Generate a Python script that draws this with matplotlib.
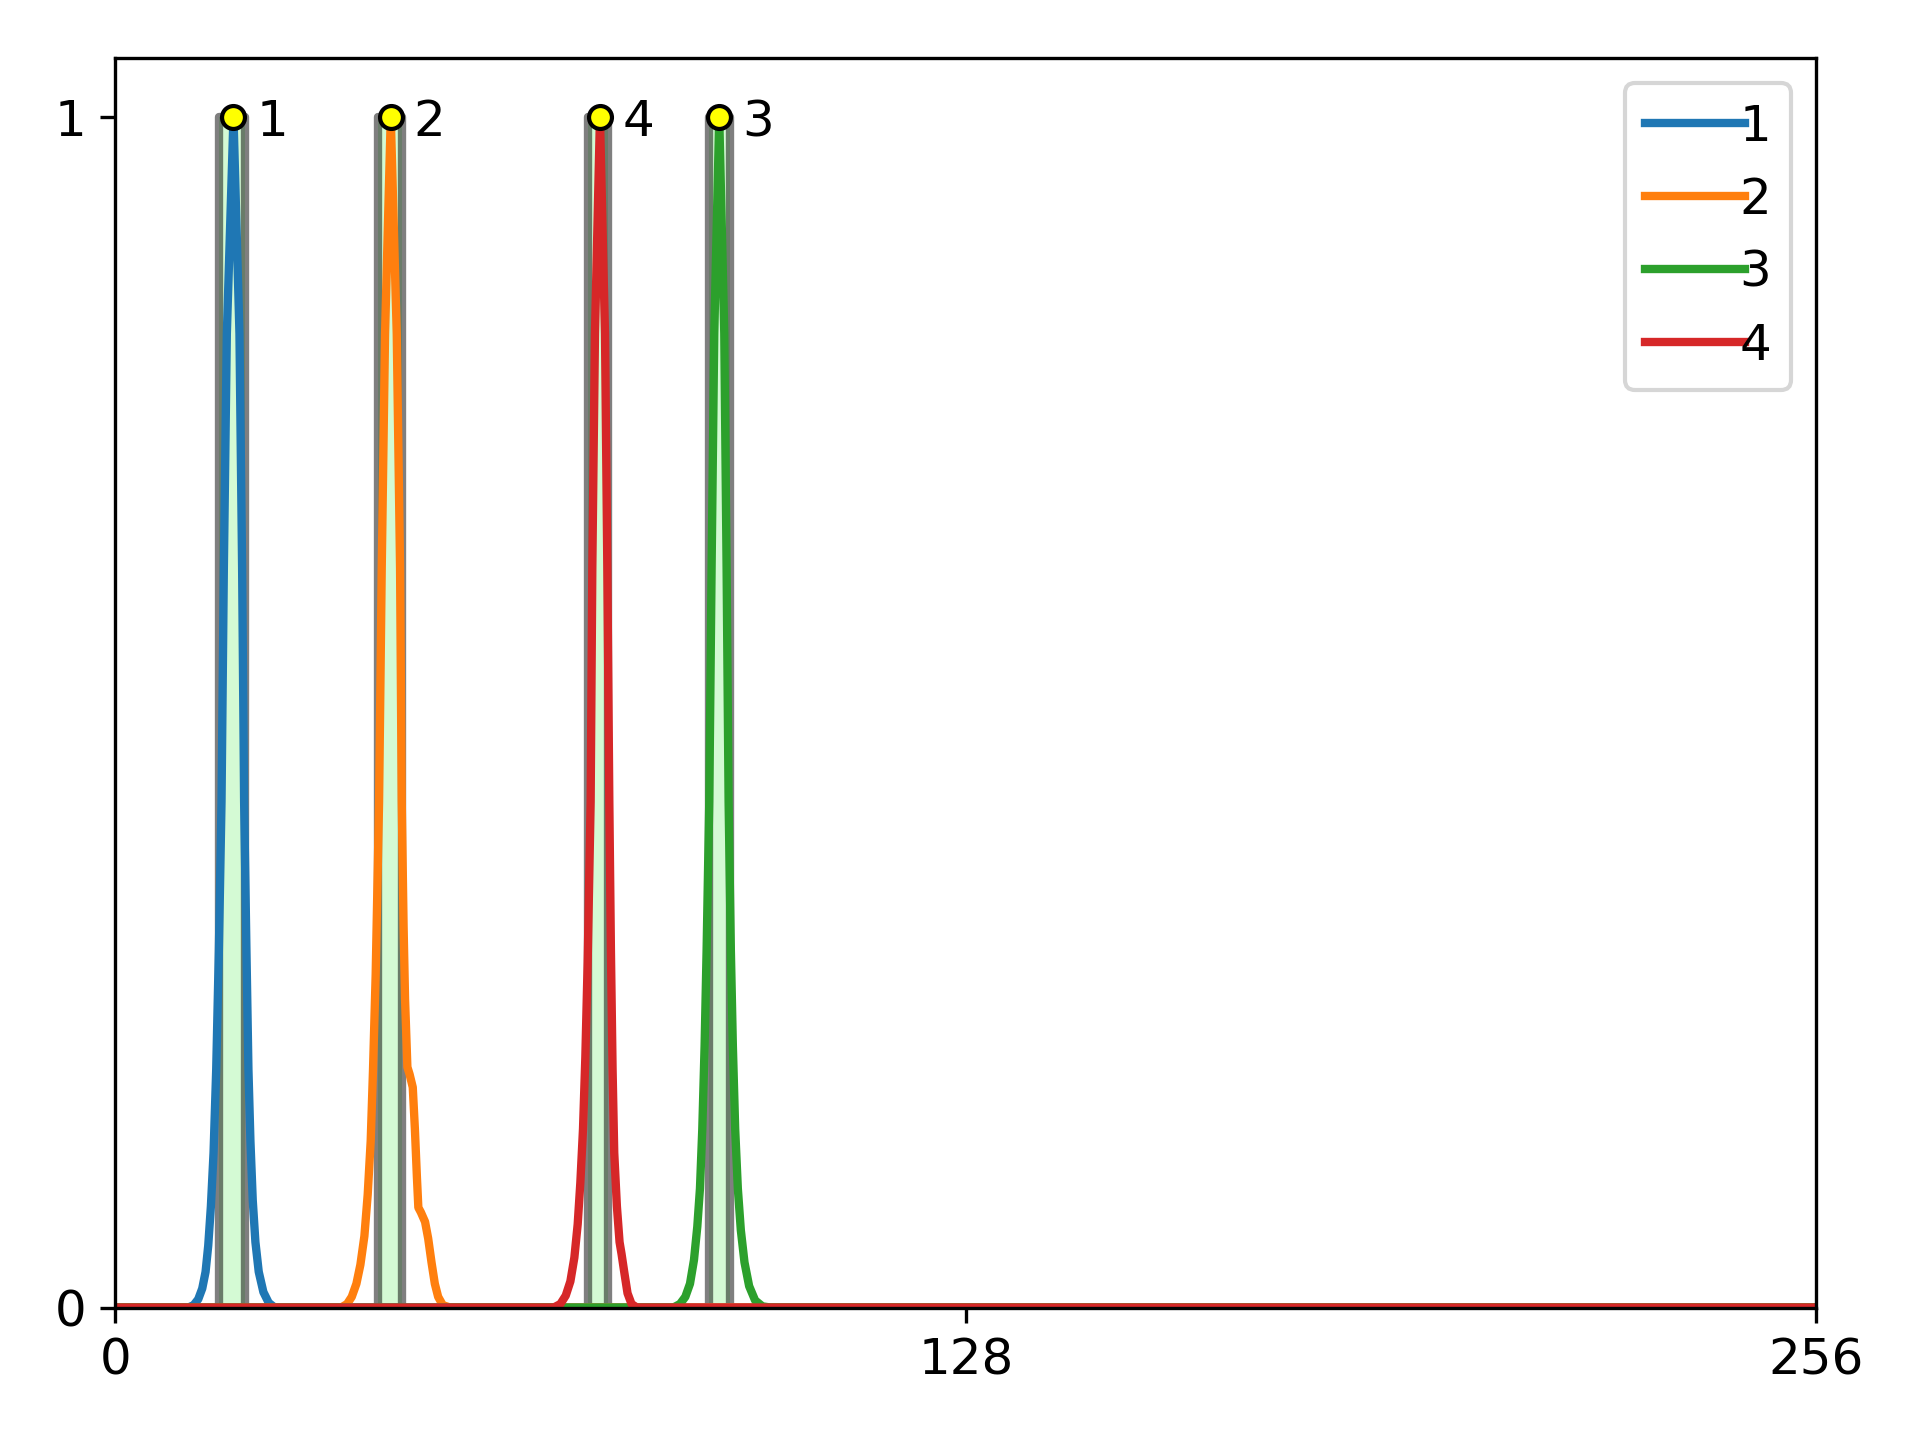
import numpy as np
import matplotlib
matplotlib.use("Agg")
from matplotlib import pyplot as plt

plt.rcParams["font.size"] = 12

labels = ["1", "2", "3", "4"]
colors = ["tab:blue", "tab:orange", "tab:green", "tab:red"]

# curve samples (x position, response)
x1 = [0, 11.0, 11.8, 12.5, 13.1, 13.6, 14.0, 14.4, 14.8, 15.2, 15.6, 16.0, 16.35, 16.8, 17.8,
      18.7, 19.1, 19.4, 19.75, 20.05, 20.35, 20.7, 21.1, 21.6, 22.3, 23.1, 24.0, 256]
y1 = [0, 0, 0.002, 0.007, 0.016, 0.03, 0.052, 0.085, 0.13, 0.2, 0.3, 0.425, 0.621, 0.818, 1,
      0.818, 0.621, 0.425, 0.3, 0.2, 0.14, 0.09, 0.055, 0.03, 0.013, 0.004, 0, 0]

x2 = [0, 34.0, 34.9, 35.6, 36.3, 36.9, 37.5, 38.0, 38.45, 38.8, 39.2, 39.71, 40.11, 40.61, 41.47,
      42.37, 42.87, 43.12, 43.4, 43.62, 43.97, 44.3, 44.78, 45.1, 45.4, 45.62, 46.0, 46.63,
      47.1, 47.6, 48.1, 48.6, 49.3, 50.4, 256]
y2 = [0, 0, 0.003, 0.009, 0.02, 0.036, 0.06, 0.095, 0.14, 0.2, 0.28, 0.425, 0.621, 0.818, 1,
      0.818, 0.621, 0.425, 0.32, 0.259, 0.202, 0.196, 0.185, 0.15, 0.11, 0.084, 0.08, 0.072,
      0.058, 0.038, 0.02, 0.009, 0.002, 0, 0]

x3 = [0, 84.0, 85.0, 85.8, 86.5, 87.1, 87.6, 88.0, 88.35, 88.7, 89.0, 89.4, 89.75, 90.15, 90.9,
      91.66, 92.01, 92.31, 92.65, 92.95, 93.3, 93.7, 94.15, 94.7, 95.4, 96.3, 97.4, 98.6, 256]
y3 = [0, 0, 0.003, 0.009, 0.02, 0.04, 0.068, 0.1, 0.15, 0.22, 0.3, 0.425, 0.621, 0.818, 1,
      0.818, 0.621, 0.425, 0.3, 0.22, 0.15, 0.1, 0.065, 0.038, 0.018, 0.006, 0.001, 0, 0]

x4 = [0, 66.0, 67.0, 67.8, 68.5, 69.1, 69.6, 70.0, 70.4, 70.75, 71.1, 71.55, 71.8, 72.2, 72.95,
      73.71, 74.06, 74.36, 74.6, 74.85, 75.1, 75.5, 75.9, 76.2, 76.6, 77.1, 77.7, 78.5, 256]
y4 = [0, 0, 0.003, 0.01, 0.022, 0.042, 0.07, 0.105, 0.15, 0.21, 0.29, 0.425, 0.621, 0.818, 1,
      0.818, 0.621, 0.425, 0.3, 0.2, 0.13, 0.085, 0.055, 0.045, 0.03, 0.012, 0.003, 0, 0]

# detected windows and peak positions
win_lo = [15.64, 39.56, 89.35, 71.2]
win_hi = [19.55, 43.17, 92.5, 74.15]
peak_x = [17.8, 41.47, 90.9, 72.95]

fig, ax = plt.subplots(figsize=(6.4, 4.8), dpi=300)
fig.subplots_adjust(left=0.06, right=0.946, bottom=0.092, top=0.96)

for lo, hi in zip(win_lo, win_hi):
    ax.fill_between([lo, hi], 0, 1, facecolor="#aaf7aa", edgecolor="k",
                    linewidth=2, alpha=0.5, zorder=1)

for xs, ys, c, lab in zip([x1, x2, x3, x4], [y1, y2, y3, y4], colors, labels):
    ax.plot(xs, ys, color=c, lw=2, label=lab, zorder=2)

for px, lab in zip(peak_x, labels):
    ax.plot(px, 1, "o", color="yellow", mec="k", mew=1, ms=5.5, zorder=3)
    ax.annotate(lab, (px, 1), xytext=(5.5, 0), textcoords="offset points",
                ha="left", va="center_baseline")

ax.set_xlim(0, 256)
ax.set_ylim(0, 1.05)
ax.set_xticks([0, 128, 256])
ax.set_yticks([0, 1])
ax.legend(loc="upper right", handletextpad=-0.1)

fig.savefig("out.png", dpi=300)
